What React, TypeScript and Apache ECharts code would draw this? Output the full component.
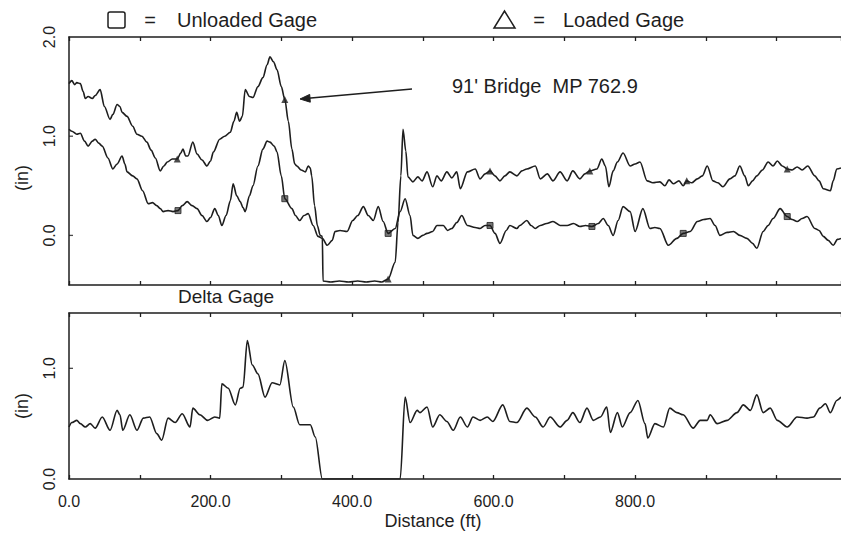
import React, { useEffect, useRef } from "react";
import * as echarts from "echarts";

// Distance (ft) / value (in) pairs
const loadedGage: number[][] = [
  [0,1.53],[4,1.56],[8,1.52],[11,1.54],[16,1.53],[20,1.45],[23,1.38],[27,1.4],[33,1.38],[37,1.41],[44,1.47],[50,1.3],[58,1.17],[62,1.22],[68,1.32],[72,1.3],[75,1.24],[82,1.2],[90,1.1],[96,1.02],[103,1.0],[110,0.94],[116,0.86],[122,0.78],[129,0.65],[134,0.7],[139,0.74],[146,0.77],[153,0.77],[158,0.83],[161,0.87],[165,0.8],[168,0.8],[175,0.94],[181,0.82],[188,0.76],[195,0.7],[200,0.75],[204,0.84],[213,0.97],[220,1.0],[228,1.04],[233,1.15],[237,1.24],[241,1.15],[245,1.2],[249,1.47],[255,1.4],[260,1.39],[267,1.5],[274,1.59],[280,1.72],[284,1.8],[289,1.75],[294,1.67],[300,1.5],[305,1.37],[310,1.15],[315,0.87],[319,0.72],[322,0.7],[328,0.66],[334,0.64],[338,0.7],[341,0.68],[343,0.6],[347,0.3],[351,0.1],[355,0.0],[358,-0.01],[359,-0.46],[370,-0.47],[382,-0.46],[395,-0.47],[408,-0.46],[420,-0.47],[432,-0.46],[442,-0.47],[451,-0.44],[461,-0.27],[465,0.13],[469,0.6],[472,1.07],[476,0.85],[479,0.59],[486,0.54],[493,0.59],[499,0.55],[506,0.64],[514,0.49],[520,0.6],[526,0.55],[534,0.64],[541,0.58],[548,0.64],[553,0.47],[563,0.64],[574,0.67],[581,0.57],[588,0.62],[595,0.65],[602,0.6],[609,0.55],[616,0.6],[623,0.64],[633,0.6],[640,0.65],[647,0.67],[659,0.7],[666,0.57],[676,0.62],[684,0.55],[694,0.64],[704,0.55],[712,0.65],[722,0.57],[729,0.62],[736,0.65],[746,0.67],[753,0.77],[758,0.7],[763,0.49],[769,0.65],[775,0.74],[783,0.83],[793,0.7],[800,0.72],[807,0.74],[817,0.55],[825,0.53],[835,0.54],[842,0.5],[848,0.56],[854,0.52],[862,0.55],[868,0.5],[873,0.55],[880,0.53],[888,0.57],[895,0.6],[902,0.7],[910,0.55],[917,0.53],[924,0.49],[934,0.57],[941,0.6],[948,0.7],[955,0.6],[960,0.5],[966,0.55],[972,0.6],[980,0.66],[988,0.74],[995,0.7],[1001,0.75],[1008,0.7],[1015,0.67],[1022,0.66],[1029,0.69],[1036,0.66],[1044,0.7],[1054,0.6],[1060,0.55],[1066,0.47],[1076,0.45],[1080,0.55],[1085,0.67],[1091,0.68]
];

const unloadedGage: number[][] = [
  [0,1.07],[4,1.05],[11,1.02],[16,1.03],[22,0.95],[27,0.9],[33,0.95],[37,0.97],[42,0.93],[47,0.9],[55,0.78],[62,0.67],[68,0.72],[75,0.8],[79,0.72],[82,0.64],[90,0.6],[96,0.57],[104,0.45],[112,0.32],[118,0.33],[124,0.3],[129,0.27],[133,0.24],[140,0.25],[147,0.24],[154,0.25],[160,0.3],[167,0.34],[174,0.3],[181,0.27],[188,0.2],[195,0.14],[200,0.18],[206,0.27],[211,0.2],[216,0.1],[222,0.2],[228,0.35],[232,0.52],[237,0.4],[242,0.34],[246,0.28],[249,0.24],[255,0.4],[260,0.5],[267,0.7],[274,0.87],[280,0.95],[284,0.94],[290,0.9],[294,0.84],[300,0.6],[305,0.37],[315,0.27],[320,0.2],[326,0.15],[332,0.2],[338,0.22],[345,0.1],[352,-0.01],[358,-0.03],[365,-0.1],[372,-0.05],[376,0.04],[383,0.05],[393,0.04],[401,0.15],[408,0.2],[416,0.29],[423,0.2],[430,0.15],[437,0.29],[444,0.14],[451,0.02],[461,0.07],[468,0.24],[475,0.37],[482,0.2],[486,0.0],[493,-0.03],[500,0.0],[506,0.02],[514,0.04],[520,0.1],[529,0.1],[535,0.05],[541,0.07],[548,0.13],[555,0.2],[563,0.1],[574,0.08],[581,0.07],[588,0.1],[595,0.1],[602,0.02],[609,-0.08],[618,0.05],[623,0.1],[633,0.07],[637,0.1],[647,0.15],[653,0.1],[659,0.07],[666,0.1],[675,0.12],[684,0.14],[694,0.1],[704,0.1],[713,0.12],[722,0.09],[730,0.1],[739,0.09],[748,0.12],[755,0.17],[762,0.1],[769,0.0],[776,0.15],[783,0.29],[793,0.24],[800,0.04],[811,0.27],[821,0.07],[828,0.08],[835,0.07],[847,-0.1],[859,-0.03],[868,0.02],[878,0.04],[888,0.14],[897,0.16],[906,0.17],[913,0.1],[920,0.0],[930,0.03],[939,0.04],[948,0.0],[958,-0.03],[966,-0.08],[972,-0.13],[981,0.04],[988,0.1],[995,0.17],[1005,0.27],[1015,0.19],[1022,0.16],[1029,0.14],[1036,0.17],[1043,0.19],[1054,0.07],[1060,0.05],[1066,-0.01],[1073,-0.05],[1080,-0.1],[1086,-0.04],[1091,-0.03]
];

const deltaGage: number[][] = [
  [0,0.47],[4,0.51],[11,0.53],[16,0.5],[23,0.47],[30,0.5],[37,0.46],[47,0.56],[58,0.44],[68,0.62],[72,0.58],[76,0.44],[86,0.58],[96,0.44],[105,0.55],[114,0.56],[124,0.41],[131,0.35],[140,0.55],[150,0.51],[160,0.59],[171,0.47],[175,0.64],[185,0.58],[196,0.53],[206,0.56],[213,0.55],[216,0.86],[225,0.82],[235,0.67],[242,0.82],[246,0.83],[252,1.25],[259,1.03],[267,0.95],[277,0.74],[287,0.87],[298,0.85],[305,1.07],[317,0.65],[326,0.49],[341,0.49],[348,0.38],[358,0.0],[468,0.0],[475,0.74],[482,0.51],[492,0.62],[496,0.6],[506,0.65],[514,0.47],[524,0.58],[534,0.52],[543,0.44],[553,0.56],[563,0.47],[571,0.56],[581,0.53],[591,0.56],[599,0.52],[613,0.67],[623,0.52],[633,0.51],[647,0.64],[659,0.56],[670,0.47],[680,0.56],[694,0.47],[704,0.53],[712,0.6],[722,0.51],[732,0.64],[741,0.53],[751,0.56],[760,0.65],[765,0.42],[775,0.6],[782,0.47],[793,0.6],[804,0.71],[814,0.5],[818,0.37],[828,0.5],[840,0.47],[849,0.64],[859,0.6],[868,0.58],[882,0.46],[892,0.53],[902,0.53],[906,0.58],[916,0.5],[930,0.53],[944,0.6],[953,0.67],[963,0.62],[972,0.76],[981,0.6],[991,0.64],[1001,0.53],[1015,0.47],[1029,0.56],[1043,0.55],[1052,0.56],[1061,0.64],[1069,0.68],[1076,0.6],[1085,0.71],[1091,0.74]
];

// Marker positions (ft) on each gage trace
const loadedMarkers = [153, 305, 451, 595, 736, 873, 1015];
const unloadedMarkers = [154, 305, 451, 595, 739, 868, 1015];

// Tick positions and labels
const xTickLabels = [0, 200, 400, 600, 800];
const topYTicks = [0, 1];
const bottomYTicks = [1];
const topYLabels = [0, 1, 2];
const bottomYLabels = [0, 1];

const FONT = "'Liberation Sans', Arial, Helvetica, sans-serif";
const INK = "#1e1e1e";
const X_MAX = 1091;
const TOP_Y = [-0.5, 2];
const BOTTOM_Y = [0, 1.5];

function pick(data: number[][], xs: number[]) {
  return data.filter((d) => xs.includes(d[0]));
}

export default function App() {
  const ref = useRef<HTMLDivElement>(null);
  useEffect(() => {
    if (!ref.current) return;
    const chart = echarts.init(ref.current, null, { renderer: "svg" });
    const xBase = (gridIndex: number, position: string, labels: boolean) => ({
      type: "value",
      gridIndex,
      position,
      min: 0,
      max: X_MAX,
      interval: 100,
      axisLine: { show: true, onZero: false, lineStyle: { color: INK, width: 1.5 } },
      axisTick: { show: true, inside: true, length: 4, lineStyle: { color: INK, width: 1.3 } },
      splitLine: { show: false },
      axisLabel: labels
        ? {
            show: true,
            margin: 14,
            fontSize: 16,
            fontFamily: FONT,
            color: INK,
            showMaxLabel: false,
            formatter: (v: number) => (xTickLabels.includes(v) ? v.toFixed(1) : ""),
          }
        : { show: false },
    });
    const yBase = (gridIndex: number, range: number[], labels: number[]) => ({
      type: "value",
      gridIndex,
      min: range[0],
      max: range[1],
      interval: 0.5,
      axisLine: { show: true, onZero: false, lineStyle: { color: INK, width: 1.5 } },
      axisTick: { show: false },
      splitLine: { show: false },
      axisLabel: {
        show: true,
        rotate: 90,
        margin: 12,
        fontSize: 16,
        fontFamily: FONT,
        color: INK,
        formatter: (v: number) => (labels.some((l) => Math.abs(l - v) < 1e-9) ? v.toFixed(1) : ""),
      },
    });
    const lineStyle = { color: INK, width: 1.6 };
    const smoothing = { smooth: 0.3, smoothMonotone: "x" };
    // y-axis tick marks (only at the labelled integers) as tiny rect symbols
    const tickSeries = (xIdx: number, yIdx: number, data: number[][]) => ({
      type: "scatter",
      xAxisIndex: xIdx,
      yAxisIndex: yIdx,
      data,
      symbol: "rect",
      symbolSize: [4, 1.3],
      symbolOffset: [2, 0],
      itemStyle: { color: INK, borderWidth: 0 },
      silent: true,
      clip: false,
      z: 5,
    });
    const textStyle = (text: string, size: number, align = "left") => ({
      text,
      fontSize: size,
      fontFamily: FONT,
      fill: INK,
      align,
      verticalAlign: "middle",
      textAlign: align,
      textVerticalAlign: "middle",
    });
    chart.setOption({
      animation: false,
      backgroundColor: "#ffffff",
      grid: [
        { left: 69, top: 37, right: 0, height: 248 },
        { left: 69, top: 313, right: 0, height: 166 },
      ],
      xAxis: [
        xBase(0, "bottom", false),
        xBase(0, "top", false),
        xBase(1, "bottom", true),
        xBase(1, "top", false),
      ],
      yAxis: [yBase(0, TOP_Y, topYLabels), yBase(1, BOTTOM_Y, bottomYLabels)],
      series: [
        {
          name: "Loaded Gage",
          type: "line",
          xAxisIndex: 0,
          yAxisIndex: 0,
          data: loadedGage,
          symbol: "none",
          lineStyle,
          ...smoothing,
        },
        {
          name: "Unloaded Gage",
          type: "line",
          xAxisIndex: 0,
          yAxisIndex: 0,
          data: unloadedGage,
          symbol: "none",
          lineStyle,
          ...smoothing,
        },
        {
          name: "Loaded markers",
          type: "scatter",
          xAxisIndex: 0,
          yAxisIndex: 0,
          data: pick(loadedGage, loadedMarkers),
          symbol: "triangle",
          symbolSize: 7,
          itemStyle: { color: INK },
        },
        {
          name: "Unloaded markers",
          type: "scatter",
          xAxisIndex: 0,
          yAxisIndex: 0,
          data: pick(unloadedGage, unloadedMarkers),
          symbol: "rect",
          symbolSize: 6,
          itemStyle: { color: "#555", borderColor: INK, borderWidth: 1 },
        },
        {
          name: "Delta Gage",
          type: "line",
          xAxisIndex: 2,
          yAxisIndex: 1,
          data: deltaGage,
          symbol: "none",
          lineStyle,
          ...smoothing,
        },
        tickSeries(0, 0, topYTicks.map((y) => [0, y])),
        tickSeries(2, 1, bottomYTicks.map((y) => [0, y])),
      ],
      graphic: [
        {
          type: "rect",
          shape: { x: 108, y: 12, width: 17, height: 16, r: 2 },
          style: { fill: "none", stroke: INK, lineWidth: 1.5 },
        },
        { type: "text", x: 150, y: 20, style: textStyle("=", 20, "center") },
        { type: "text", x: 177, y: 20, style: textStyle("Unloaded Gage", 20) },
        {
          type: "polygon",
          shape: { points: [[494, 28], [515, 28], [504.5, 11]] },
          style: { fill: "none", stroke: INK, lineWidth: 1.5 },
        },
        { type: "text", x: 539, y: 20, style: textStyle("=", 20, "center") },
        { type: "text", x: 563, y: 20, style: textStyle("Loaded Gage", 20) },
        { type: "text", x: 452, y: 86, style: textStyle("91' Bridge  MP 762.9", 20) },
        {
          type: "line",
          shape: { x1: 412, y1: 89, x2: 308, y2: 98.3 },
          style: { stroke: INK, lineWidth: 1.6 },
        },
        {
          type: "polygon",
          shape: { points: [[300, 99], [310.3, 102.2], [309.7, 94.4]] },
          style: { fill: INK, stroke: INK, lineWidth: 1 },
        },
        { type: "text", x: 178, y: 296, style: textStyle("Delta Gage", 19) },
        { type: "text", x: 433, y: 521, style: textStyle("Distance (ft)", 18, "center") },
        { type: "text", x: 22, y: 178, rotation: Math.PI / 2, style: textStyle("(in)", 18, "center") },
        { type: "text", x: 22, y: 406, rotation: Math.PI / 2, style: textStyle("(in)", 18, "center") },
      ],
    });
    return () => chart.dispose();
  }, []);
  return (
    <div
      ref={ref}
      style={{ position: "fixed", left: 0, top: 0, width: 841, height: 541, background: "#fff" }}
    />
  );
}
